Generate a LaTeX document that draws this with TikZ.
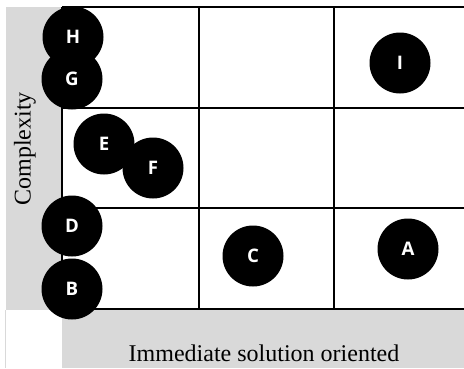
\documentclass[tikz,border=0pt]{standalone}
\usepackage{fontspec}
\setmainfont{Liberation Serif}
\newfontfamily\bubblefont{Open Sans}
\usepackage{tikz}
\definecolor{axisgray}{RGB}{217,217,217}
\tikzset{
  bubble/.style={circle, fill=black, inner sep=0pt, minimum size=45.75pt,
    text=white, font=\bubblefont\bfseries\fontsize{14}{14}\selectfont},
  gridline/.style={line width=1.2pt, color=black},
  axislabel/.style={inner sep=0.75pt, font=\fontsize{18}{20}\selectfont}
}

\begin{document}
\begin{tikzpicture}[x=0.75pt,y=0.75pt,yscale=-1,xscale=1]
\useasboundingbox (0,0) rectangle (464,368);
% grey axis bands
\fill [axisgray] (6,7) rectangle (62,310) ;
\fill [axisgray] (62,310) rectangle (464,368) ;
\draw [axisgray, line width=0.75pt] (5,310) -- (5,368) ;
% grid
\draw [gridline] (62,7) -- (464,7) ;
\draw [gridline] (62,108) -- (464,108) ;
\draw [gridline] (62,208) -- (464,208) ;
\draw [gridline] (62,309) -- (464,309) ;
\draw [gridline] (62,7) -- (62,309) ;
\draw [gridline] (199,7) -- (199,309) ;
\draw [gridline] (334,7) -- (334,309) ;
% axis labels
\node [axislabel, rotate=90, anchor=center] (ylab) at (25,149) {Complexity};
\node [axislabel, anchor=base] (xlab) at (264,361) {Immediate solution oriented};
% items
\node [bubble] (h) at (73,37) {H};
\node [bubble] (g) at (72,79) {G};
\node [bubble] (e) at (104,144) {E};
\node [bubble] (f) at (153,168) {F};
\node [bubble] (d) at (72,226) {D};
\node [bubble] (b) at (72,289) {B};
\node [bubble] (c) at (253,256) {C};
\node [bubble] (a) at (408,249) {A};
\node [bubble] (i) at (400,63) {I};
\end{tikzpicture}
\end{document}
